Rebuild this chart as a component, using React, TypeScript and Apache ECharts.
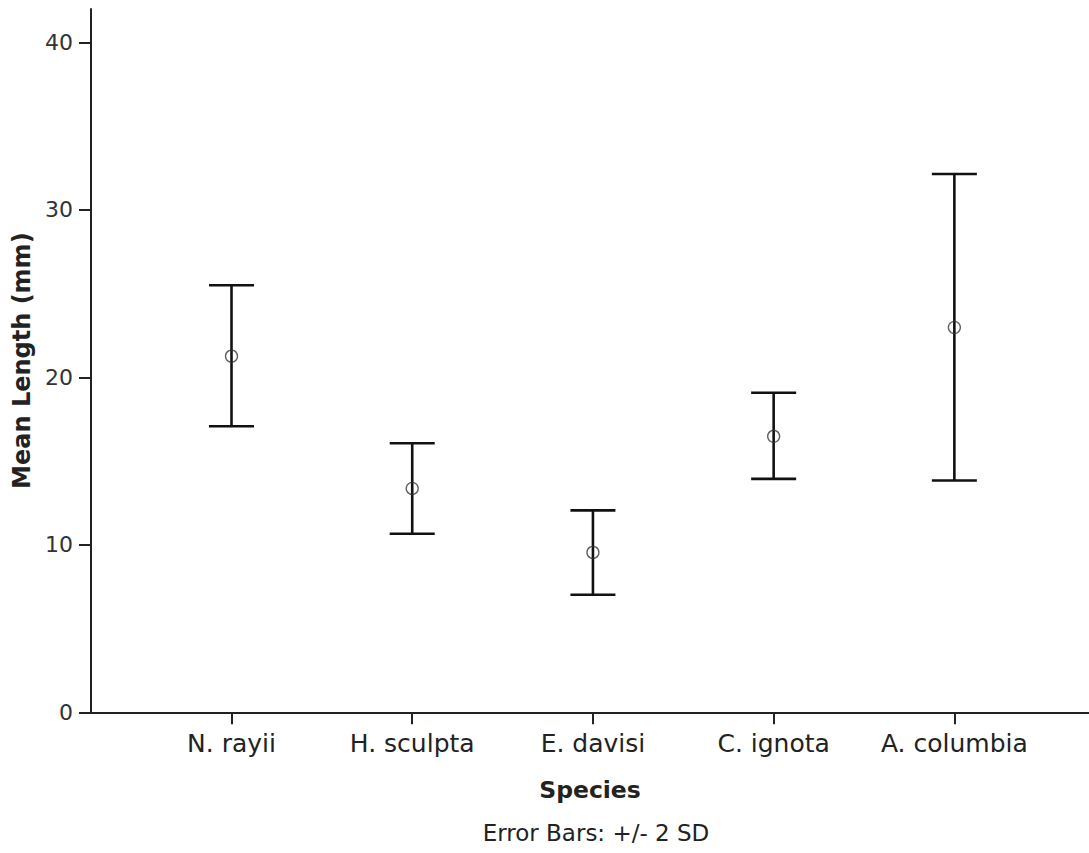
import React, { useEffect, useRef } from "react";
import * as echarts from "echarts";

const species = ["N. rayii", "H. sculpta", "E. davisi", "C. ignota", "A. columbia"];
const means = [21.27, 13.37, 9.55, 16.48, 22.98];
const upper = [25.5, 16.07, 12.06, 19.08, 32.15];
const lower = [17.08, 10.66, 7.02, 13.94, 13.84];
const yTicks = [0, 10, 20, 30, 40];
const xPositions = [1, 2, 3, 4, 5];

const FONT = "DejaVu Sans";

export default function App() {
  const ref = useRef<HTMLDivElement>(null);
  useEffect(() => {
    if (!ref.current) return;
    const chart = echarts.init(ref.current, null, { renderer: "svg" });
    const errData = xPositions.map((x, i) => [x, lower[i], upper[i]]);
    const meanData = xPositions.map((x, i) => [x, means[i]]);
    chart.setOption({
      animation: false,
      backgroundColor: "#ffffff",
      grid: { left: 91, right: 0, top: 9, bottom: 140.7 },
      xAxis: {
        type: "value",
        min: 0.2225,
        max: 5.745,
        name: "Species",
        nameLocation: "middle",
        nameGap: 66,
        nameTextStyle: { fontFamily: FONT, fontSize: 23.5, fontWeight: "bold", color: "#222" },
        splitLine: { show: false },
        axisLine: { show: true, onZero: false, lineStyle: { color: "#222", width: 2 } },
        axisTick: { show: true, length: 12, customValues: xPositions, lineStyle: { color: "#222", width: 2 } },
        axisLabel: {
          customValues: xPositions,
          margin: 19,
          fontFamily: FONT,
          fontSize: 25,
          color: "#222",
          formatter: (v: number) => species[Math.round(v) - 1] ?? "",
        },
      },
      yAxis: {
        type: "value",
        min: 0,
        max: 42,
        name: "Mean Length (mm)",
        nameLocation: "middle",
        nameGap: 56,
        nameTextStyle: { fontFamily: FONT, fontSize: 24, fontWeight: "bold", color: "#222" },
        splitLine: { show: false },
        axisLine: { show: true, lineStyle: { color: "#222", width: 2 } },
        axisTick: { show: true, length: 12, customValues: yTicks, lineStyle: { color: "#222", width: 2 } },
        axisLabel: {
          customValues: yTicks,
          margin: 18,
          fontFamily: FONT,
          fontSize: 22,
          color: "#333",
        },
      },
      series: [
        {
          type: "custom",
          data: errData,
          encode: { x: 0, y: [1, 2] },
          renderItem: (params: any, api: any) => {
            const x = api.value(0);
            const lo = api.coord([x, api.value(1)]);
            const hi = api.coord([x, api.value(2)]);
            const hw = 22.5;
            const style = { stroke: "#111", lineWidth: 2.6 };
            return {
              type: "group",
              children: [
                { type: "line", shape: { x1: lo[0], y1: lo[1], x2: hi[0], y2: hi[1] }, style },
                { type: "line", shape: { x1: hi[0] - hw, y1: hi[1], x2: hi[0] + hw, y2: hi[1] }, style },
                { type: "line", shape: { x1: lo[0] - hw, y1: lo[1], x2: lo[0] + hw, y2: lo[1] }, style },
              ],
            };
          },
          z: 2,
        },
        {
          type: "scatter",
          data: meanData,
          symbol: "circle",
          symbolSize: 12,
          itemStyle: { color: "transparent", borderColor: "#333", borderWidth: 1.3 },
          z: 3,
        },
      ],
      graphic: [
        {
          type: "text",
          x: 596,
          y: 833,
          style: {
            text: "Error Bars: +/- 2 SD",
            fontFamily: FONT,
            fontSize: 23,
            fill: "#222",
            align: "center",
            verticalAlign: "middle",
          },
        },
      ],
    });
    return () => chart.dispose();
  }, []);
  return <div ref={ref} style={{ position: "absolute", left: 0, top: 0, width: 1089, height: 853 }} />;
}
